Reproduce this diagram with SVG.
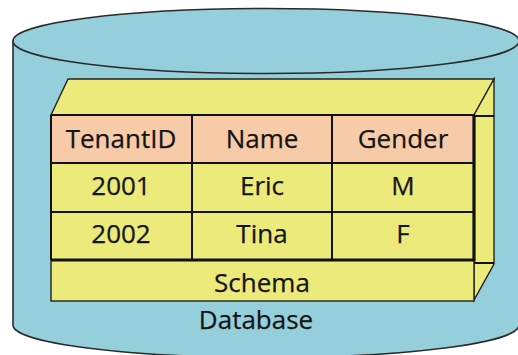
<svg xmlns="http://www.w3.org/2000/svg" width="518" height="355" viewBox="0 0 518 355">
  <style>
    .cyl { fill: #96CFDC; stroke: #2a2a2a; stroke-width: 1.6; }
    .box { fill: #ECEA7A; stroke: #222; stroke-width: 1.4; stroke-linejoin: miter; }
    .hdr { fill: #F8CBA8; }
    .row { fill: #ECEA7A; }
    .grid { stroke: #111; stroke-width: 2; fill: none; }
    .edge { stroke: #111; stroke-width: 3.2; fill: none; }
    .lbl { font-family: "Open Sans", "Liberation Sans", sans-serif; font-size: 26px; fill: #141414; stroke: #141414; stroke-width: 0.25; text-anchor: middle; }
  </style>

  <!-- Database cylinder -->
  <g id="database">
    <path class="cyl" d="M13,41 L13,325 A253,32.5 0 0 0 519,325 L519,41 Z"/>
    <ellipse class="cyl" cx="266" cy="41" rx="253" ry="32.5"/>
    <text class="lbl" x="256" y="329">Database</text>
  </g>

  <!-- Schema block (3D box) -->
  <g id="schema">
    <polygon class="box" points="51,115 68,79 494,79 474,115"/>
    <polygon class="box" points="474,115 494,79 494,264 474,300"/>
    <line class="grid" x1="474" y1="116" x2="494" y2="116" stroke-width="1.4"/>
    <line class="grid" x1="474" y1="263" x2="494" y2="263" stroke-width="1.4"/>
    <rect class="box" x="51" y="115" width="423" height="186"/>
    <text class="lbl" x="262" y="292">Schema</text>
  </g>

  <!-- Tenant table -->
  <g id="table">
    <rect class="hdr" x="51" y="115" width="423" height="48"/>
    <rect class="row" x="51" y="163" width="423" height="97"/>
    <g class="grid">
      <line x1="51" y1="115" x2="474" y2="115"/>
      <line x1="51" y1="163" x2="474" y2="163"/>
      <line x1="51" y1="212" x2="474" y2="212"/>
      <line x1="51" y1="115" x2="51" y2="260"/>
      <line x1="192" y1="115" x2="192" y2="260"/>
      <line x1="332" y1="115" x2="332" y2="260"/>
    </g>
    <path class="edge" d="M51,260 L474,260 L474,115"/>
    <text class="lbl" x="121" y="148">TenantID</text>
    <text class="lbl" x="262" y="148">Name</text>
    <text class="lbl" x="403" y="148">Gender</text>
    <text class="lbl" x="121" y="195">2001</text>
    <text class="lbl" x="262" y="195">Eric</text>
    <text class="lbl" x="403" y="195">M</text>
    <text class="lbl" x="121" y="243">2002</text>
    <text class="lbl" x="262" y="243">Tina</text>
    <text class="lbl" x="403" y="243">F</text>
  </g>
</svg>
